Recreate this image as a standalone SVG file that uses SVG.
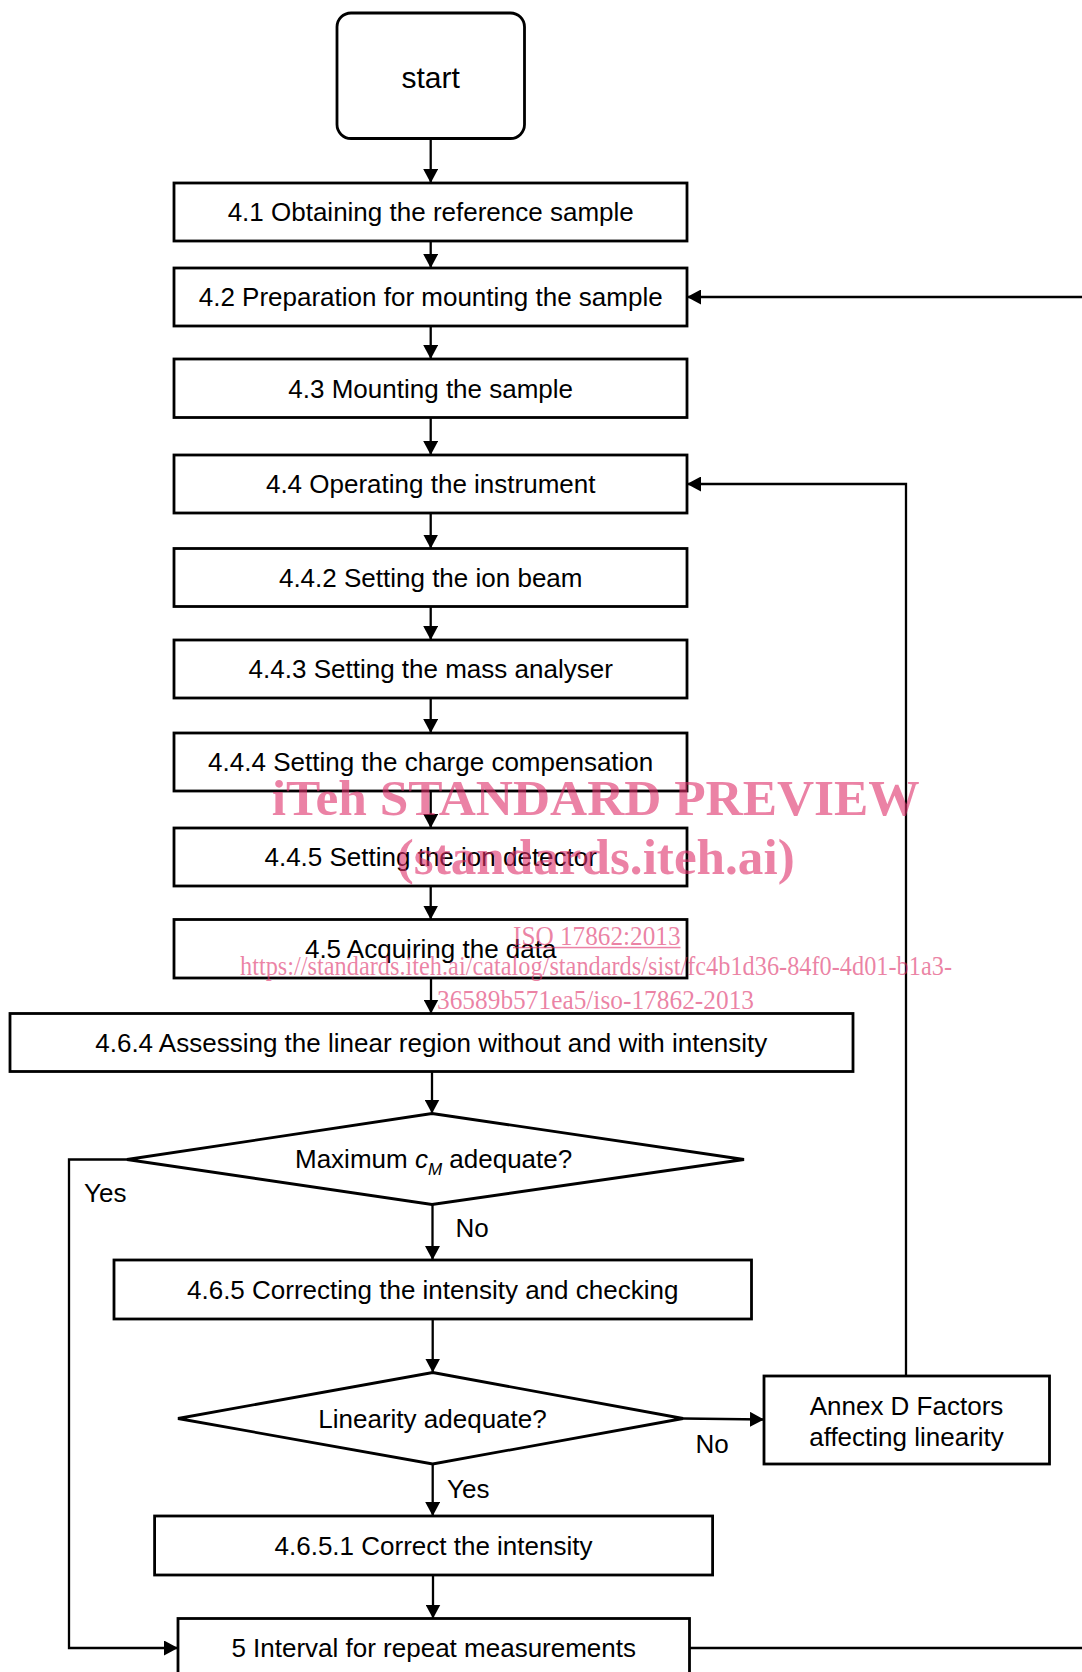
<svg xmlns="http://www.w3.org/2000/svg" width="1082" height="1672" viewBox="0 0 1082 1672">
<style>
.box{fill:#fff;stroke:#000;stroke-width:2.8}
.t{font-family:"Liberation Sans",Arial,sans-serif;font-size:26px;fill:#000;text-anchor:middle}
.l{font-family:"Liberation Sans",Arial,sans-serif;font-size:26px;fill:#000}
.c{fill:none;stroke:#000;stroke-width:2.3}
.wm{font-family:"Liberation Serif","Times New Roman",serif;fill:#de2f69;fill-opacity:0.6}
</style>
<defs>
<marker id="ah" markerUnits="userSpaceOnUse" markerWidth="15" markerHeight="15" refX="14" refY="7.5" orient="auto">
<path d="M0,0 L14,7.5 L0,15 z" fill="#000"/>
</marker>
</defs>
<rect width="1082" height="1672" fill="#fff"/>
<g id="connectors">
<line class="c" x1="430.7" y1="138.5" x2="430.7" y2="183" marker-end="url(#ah)"/>
<line class="c" x1="430.7" y1="241" x2="430.7" y2="268" marker-end="url(#ah)"/>
<line class="c" x1="430.7" y1="326" x2="430.7" y2="359" marker-end="url(#ah)"/>
<line class="c" x1="430.7" y1="417.5" x2="430.7" y2="455" marker-end="url(#ah)"/>
<line class="c" x1="430.7" y1="513" x2="430.7" y2="548.5" marker-end="url(#ah)"/>
<line class="c" x1="430.7" y1="606.5" x2="430.7" y2="640" marker-end="url(#ah)"/>
<line class="c" x1="430.7" y1="698" x2="430.7" y2="733" marker-end="url(#ah)"/>
<line class="c" x1="430.7" y1="791" x2="430.7" y2="828" marker-end="url(#ah)"/>
<line class="c" x1="430.7" y1="886" x2="430.7" y2="919.5" marker-end="url(#ah)"/>
<line class="c" x1="431" y1="978" x2="431" y2="1013.5" marker-end="url(#ah)"/>
<line class="c" x1="432" y1="1071.5" x2="432" y2="1113.5" marker-end="url(#ah)"/>
<line class="c" x1="432.5" y1="1204.5" x2="432.5" y2="1260" marker-end="url(#ah)"/>
<line class="c" x1="432.7" y1="1319" x2="432.7" y2="1372.5" marker-end="url(#ah)"/>
<line class="c" x1="683" y1="1418.5" x2="764" y2="1419.5" marker-end="url(#ah)"/>
<line class="c" x1="432.7" y1="1464" x2="432.7" y2="1516" marker-end="url(#ah)"/>
<line class="c" x1="433" y1="1575" x2="433" y2="1618.5" marker-end="url(#ah)"/>
<path class="c" d="M127,1159.5 H69 V1648 H178" marker-end="url(#ah)"/>
<path class="c" d="M906,1376 V484 H687" marker-end="url(#ah)"/>
<path class="c" d="M689.5,1648 H1095 V297 H687" marker-end="url(#ah)"/>
</g>
<g id="n-start"><rect class="box" x="337" y="13" width="187.5" height="125.5" rx="14"/><text class="t" x="430.7" y="88" style="font-size:30px">start</text></g>
<g id="n-41"><rect class="box" x="174" y="183" width="513" height="58"/><text class="t" x="430.7" y="221">4.1 Obtaining the reference sample</text></g>
<g id="n-42"><rect class="box" x="174" y="268" width="513" height="58"/><text class="t" x="430.7" y="306">4.2 Preparation for mounting the sample</text></g>
<g id="n-43"><rect class="box" x="174" y="359" width="513" height="58.5"/><text class="t" x="430.7" y="397.5">4.3 Mounting the sample</text></g>
<g id="n-44"><rect class="box" x="174" y="455" width="513" height="58"/><text class="t" x="430.7" y="493">4.4 Operating the instrument</text></g>
<g id="n-442"><rect class="box" x="174" y="548.5" width="513" height="58"/><text class="t" x="430.7" y="586.5">4.4.2 Setting the ion beam</text></g>
<g id="n-443"><rect class="box" x="174" y="640" width="513" height="58"/><text class="t" x="430.7" y="678">4.4.3 Setting the mass analyser</text></g>
<g id="n-444"><rect class="box" x="174" y="733" width="513" height="58"/><text class="t" x="430.7" y="771">4.4.4 Setting the charge compensation</text></g>
<g id="n-445"><rect class="box" x="174" y="828" width="513" height="58"/><text class="t" x="430.7" y="866">4.4.5 Setting the ion detector</text></g>
<g id="n-45"><rect class="box" x="174" y="919.5" width="513" height="58.5"/><text class="t" x="430.7" y="958">4.5 Acquiring the data</text></g>
<g id="n-464"><rect class="box" x="10" y="1013.5" width="843" height="58"/><text class="t" x="431.3" y="1051.5">4.6.4 Assessing the linear region without and with intensity</text></g>
<g id="n-d1"><polygon class="box" points="432,1113.5 744,1159.5 432,1204.5 127,1159.5"/>
<text class="l" x="295" y="1168.3">Maximum <tspan style="font-style:italic">c</tspan><tspan style="font-style:italic;font-size:17px" dy="6.5">M</tspan><tspan dy="-6.5"> adequate?</tspan></text></g>
<g id="n-465"><rect class="box" x="114" y="1260" width="637.5" height="59"/><text class="t" x="432.7" y="1298.5">4.6.5 Correcting the intensity and checking</text></g>
<g id="n-d2"><polygon class="box" points="432.7,1372.5 683,1418.5 432.7,1464 178,1418.5"/><text class="t" x="432.5" y="1427.5">Linearity adequate?</text></g>
<g id="n-annex"><rect class="box" x="764" y="1376" width="285.5" height="88"/><text class="t" x="906.5" y="1414.5">Annex D Factors</text><text class="t" x="906.5" y="1446">affecting linearity</text></g>
<g id="n-4651"><rect class="box" x="154.6" y="1516" width="558" height="59"/><text class="t" x="433.5" y="1554.5">4.6.5.1 Correct the intensity</text></g>
<g id="n-5"><rect class="box" x="178" y="1618.5" width="511.5" height="80"/><text class="t" x="433.7" y="1657">5 Interval for repeat measurements</text></g>
<g id="labels">
<text class="l" x="84" y="1201.5">Yes</text>
<text class="l" x="455.5" y="1237">No</text>
<text class="l" x="695.5" y="1453">No</text>
<text class="l" x="447" y="1498">Yes</text>
</g>
<g id="watermark">
<text class="wm" x="271.7" y="815" style="font-size:51px;font-weight:bold" textLength="648" lengthAdjust="spacingAndGlyphs">iTeh STANDARD PREVIEW</text>
<text class="wm" x="396.7" y="874" style="font-size:51px;font-weight:bold" textLength="398" lengthAdjust="spacingAndGlyphs">(standards.iteh.ai)</text>
<text class="wm" x="513" y="945" style="font-size:27px" textLength="167.5" lengthAdjust="spacingAndGlyphs">ISO 17862:2013</text>
<rect x="513" y="946.8" width="167.5" height="1.5" fill="#de2f69" fill-opacity="0.6"/>
<text class="wm" x="240" y="975" style="font-size:27px" textLength="712" lengthAdjust="spacingAndGlyphs">https://standards.iteh.ai/catalog/standards/sist/fc4b1d36-84f0-4d01-b1a3-</text>
<text class="wm" x="437" y="1009" style="font-size:27px" textLength="317" lengthAdjust="spacingAndGlyphs">36589b571ea5/iso-17862-2013</text>
</g>
</svg>
